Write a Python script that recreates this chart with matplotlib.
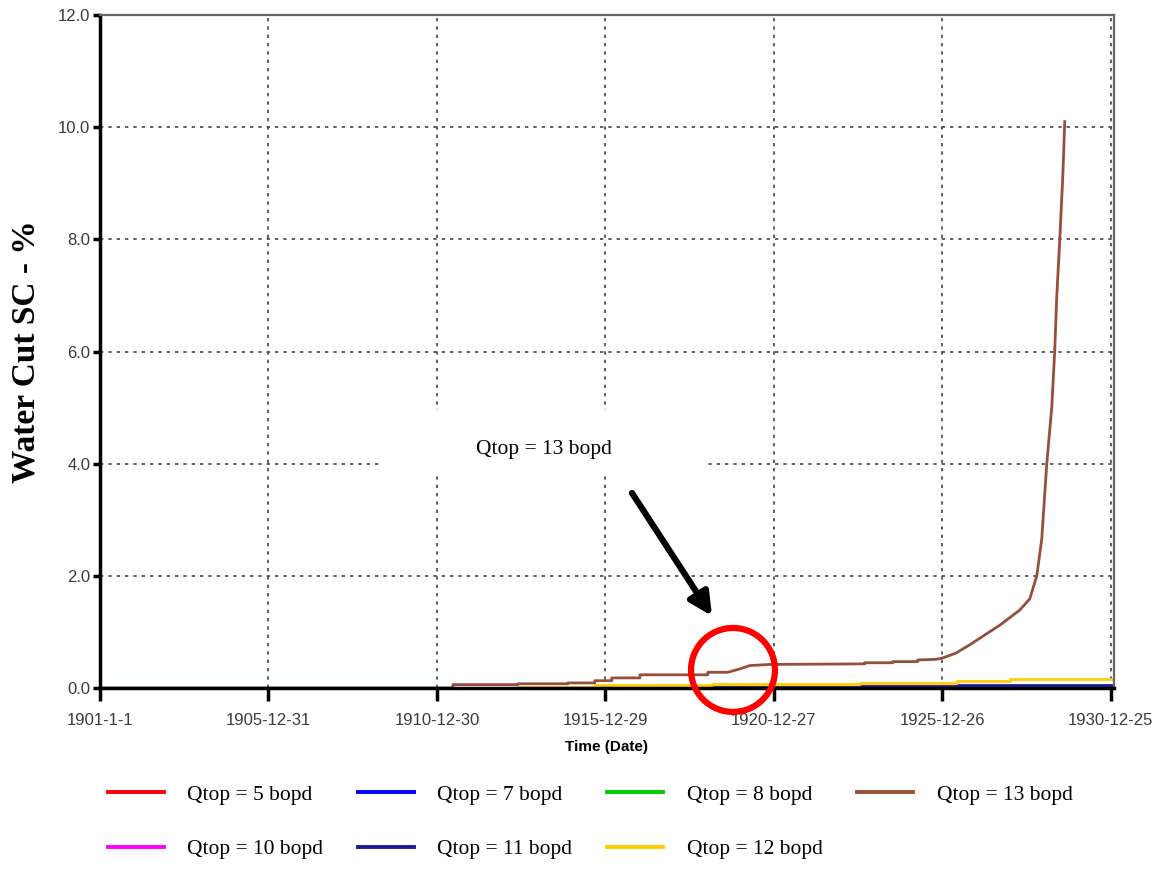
import numpy as np
import matplotlib
matplotlib.use('Agg')
import matplotlib.pyplot as plt
from matplotlib.patches import Ellipse, Rectangle

start = np.datetime64('1901-01-01')
end_day = 10983

# water cut per case, days since 1901-01-01 -> %
q13_days = [0, 3823, 3823, 4527, 4527, 5069, 5069, 5361, 5361, 5545, 5545, 5849, 5849,
            6585, 6585, 6802, 6932, 7040, 7257, 8286, 8286, 8589, 8589, 8860, 8860,
            9050, 9120, 9270, 9423, 9590, 9748, 9965, 10073, 10149, 10203, 10257,
            10311, 10343, 10365, 10398, 10430, 10452]
q13_wc = [0, 0, 0.06, 0.06, 0.075, 0.075, 0.09, 0.09, 0.13, 0.13, 0.18, 0.18, 0.235,
          0.235, 0.28, 0.28, 0.34, 0.40, 0.42, 0.43, 0.45, 0.45, 0.47, 0.47, 0.50,
          0.51, 0.53, 0.62, 0.77, 0.95, 1.12, 1.39, 1.59, 2.0, 2.66, 4.0,
          5.0, 6.0, 6.97, 8.0, 9.1, 10.1]

q12_days = [0, 4527, 4527, 5361, 5361, 6629, 6629, 8235, 8235, 9286, 9286, 9860, 9860, end_day]
q12_wc = [0, 0, 0.025, 0.025, 0.06, 0.06, 0.075, 0.075, 0.09, 0.09, 0.12, 0.12, 0.155, 0.155]

q11_days = [0, 6629, 6629, 8235, 8235, 9286, 9286, end_day]
q11_wc = [0, 0, 0.02, 0.02, 0.035, 0.035, 0.05, 0.05]

q7_days = [0, 8235, 8235, end_day]
q7_wc = [0, 0, 0.02, 0.02]

flat_days = [0, end_day]
flat_wc = [0, 0]

tick_dates = ['1901-01-01', '1905-12-31', '1910-12-30', '1915-12-29',
              '1920-12-27', '1925-12-26', '1930-12-25']
tick_labels = ['1901-1-1', '1905-12-31', '1910-12-30', '1915-12-29',
               '1920-12-27', '1925-12-26', '1930-12-25']


def to_dates(days):
    return start + np.array(days).astype('timedelta64[D]')


series = [
    ('Qtop = 5 bopd', flat_days, flat_wc, '#ff0000'),
    ('Qtop = 7 bopd', q7_days, q7_wc, '#0000ff'),
    ('Qtop = 8 bopd', flat_days, flat_wc, '#00cc00'),
    ('Qtop = 10 bopd', flat_days, flat_wc, '#ff00ff'),
    ('Qtop = 11 bopd', q11_days, q11_wc, '#1c1c9c'),
    ('Qtop = 12 bopd', q12_days, q12_wc, '#ffcc00'),
    ('Qtop = 13 bopd', q13_days, q13_wc, '#94503a'),
]

fig = plt.figure(figsize=(11.57, 8.69), dpi=100)
ax = fig.add_axes([0.0864, 0.2083, 0.8764, 0.7744])

lines = {}
for label, d, v, c in series:
    ln, = ax.plot(to_dates(d), v, color=c, lw=2.0, label=label)
    lines[label] = ln

ax.set_ylim(0, 12)
ax.set_xlim(start, start + np.timedelta64(end_day + 2, 'D'))
ax.set_yticks(np.arange(0, 12.1, 2))
ax.set_yticklabels([f'{v:.1f}' for v in np.arange(0, 12.1, 2)])
ax.set_xticks(np.array(tick_dates, dtype='datetime64[D]'))
ax.set_xticklabels(tick_labels)

for t in ax.get_xticklabels() + ax.get_yticklabels():
    t.set_family('Liberation Sans')
    t.set_fontsize(12)
    t.set_color('#3a3a3a')

ax.grid(True, ls=(0, (2, 3)), color='#444444', lw=1.2)
ax.tick_params(axis='x', direction='out', length=9, width=2.5, pad=9)
ax.tick_params(axis='y', direction='out', length=5, width=2.5, pad=2)
ax.spines['left'].set_linewidth(2.5)
ax.spines['bottom'].set_linewidth(2.5)
for s in ('top', 'right'):
    ax.spines[s].set_linewidth(1.6)
    ax.spines[s].set_color('#666666')

ax.set_ylabel('Water Cut SC - %', family='Liberation Serif', fontweight='bold',
              fontsize=24, labelpad=12)
ax.set_xlabel('Time (Date)', family='Liberation Sans', fontweight='bold',
              fontsize=11, labelpad=9)

# callout
ax.add_patch(Rectangle((0.278, 0.3165), 0.319, 0.0965, transform=ax.transAxes,
                       fc='white', ec='none', zorder=3))
ax.text(0.438, 0.354, 'Qtop = 13 bopd', transform=ax.transAxes, ha='center',
        va='center', family='Liberation Serif', fontsize=15.5, zorder=4)
ax.annotate('', xy=(0.6036, 0.107), xytext=(0.5247, 0.2897),
            xycoords='axes fraction', textcoords='axes fraction',
            arrowprops=dict(arrowstyle='-|>', lw=4.5, color='black',
                            mutation_scale=34, shrinkA=0, shrinkB=0), zorder=5)
ax.add_patch(Ellipse((0.6243, 0.0268), 0.0828, 0.1248, transform=ax.transAxes,
                     fill=False, ec='#ff0000', lw=4.5, clip_on=False, zorder=6))

order = ['Qtop = 5 bopd', 'Qtop = 10 bopd', 'Qtop = 7 bopd', 'Qtop = 11 bopd',
         'Qtop = 8 bopd', 'Qtop = 12 bopd', 'Qtop = 13 bopd']
leg = fig.legend([lines[k] for k in order], order, loc='center', ncol=4,
                 bbox_to_anchor=(0.51, 0.054), frameon=False,
                 prop={'family': 'Liberation Serif', 'size': 15.5},
                 handlelength=2.6, handletextpad=1.1, columnspacing=1.6,
                 labelspacing=1.6)
for h in leg.legend_handles:
    h.set_linewidth(2.8)

fig.savefig('out.png', dpi=100)
